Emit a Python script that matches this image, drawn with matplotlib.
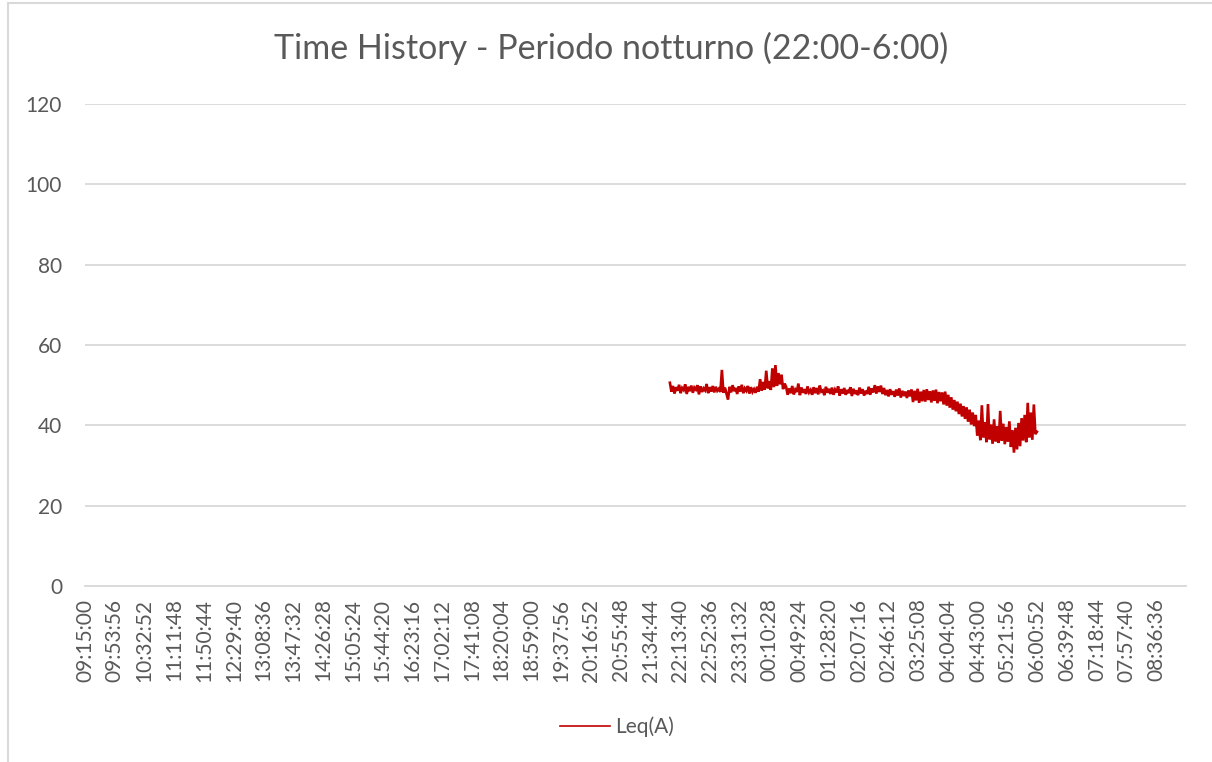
import matplotlib
matplotlib.use("Agg")
import matplotlib.pyplot as plt
from matplotlib.lines import Line2D
import numpy as np

# ---- data ----
title = "Time History - Periodo notturno (22:00-6:00)"
series_name = "Leq(A)"
axis_start = "09:15:00"          # first category of the axis
axis_span_s = 86400              # axis covers one day
label_step_s = 2336              # one label every 38:56
y_ticks = [0, 20, 40, 60, 80, 100, 120]
data_start_s = 45900             # 22:00:00 expressed as seconds after 09:15:00
data_step_s = 120                # one reading every 2 minutes

leq = [
    50.6, 48.4, 49.8, 47.9, 49.5, 48.6, 50.1, 48.0, 49.3, 48.8,
    50.2, 47.8, 49.6, 48.5, 49.9, 48.1, 49.4, 48.9, 50.0, 47.7,
    49.7, 48.3, 49.2, 48.7, 50.3, 48.0, 49.5, 48.4, 49.8, 48.2,
    49.6, 48.6, 49.1, 48.3,
    53.8,
    48.1, 49.4, 47.9, 46.4,
    49.6, 48.2, 50.0, 48.5, 49.3, 47.8, 49.7, 48.4, 50.1, 48.0,
    49.2, 48.6, 49.8, 47.9, 49.5, 48.3, 49.0, 48.1, 49.6, 48.4,
    51.5, 48.6, 50.8, 48.9, 53.6, 49.2, 51.0, 48.8, 54.2, 49.5,
    55.0, 49.8, 53.0, 50.2, 52.6, 49.0, 50.4,
    49.6, 47.6, 49.2, 48.0, 49.8, 47.7, 48.9, 48.3, 50.4, 47.5,
    49.4, 48.1, 49.0, 47.8, 49.7, 48.2, 48.8, 47.6, 49.5, 48.0,
    49.3, 47.7, 49.9, 48.4, 48.7, 47.5, 49.6, 48.1, 49.1, 47.8,
    49.4, 47.6, 48.9, 48.2, 49.7, 47.4, 49.0, 47.9, 49.3, 47.6,
    48.8, 48.0, 49.5, 47.3, 49.1, 47.8, 48.7, 47.5, 49.4, 47.9,
    49.0, 47.4, 48.6, 47.8, 49.6, 47.6, 49.2, 48.2, 50.0, 47.9,
    49.7, 48.3, 49.9, 47.8, 49.3, 47.5, 48.8, 47.2, 49.0, 47.6,
    48.5, 47.1, 48.9, 47.4, 49.2, 46.9, 48.6, 47.3, 48.4, 46.8,
    48.7, 47.2,
    48.9, 45.8, 48.6, 46.2, 49.1, 45.6, 48.4, 46.0, 48.8, 45.9,
    49.0, 46.3, 48.5, 45.7, 48.7, 46.1, 48.9, 45.5, 48.3, 46.0, 48.2,
    45.2, 48.4, 44.9, 47.6, 44.4, 47.0, 43.9, 46.3, 43.5, 45.9,
    42.8, 45.4, 42.2, 44.8, 41.6, 44.5, 40.9, 43.9, 40.2, 43.2, 39.8,
    42.6, 37.4, 41.2, 36.3, 45.0, 37.0, 40.8, 35.8, 45.3, 36.5,
    40.2, 35.4, 41.5, 36.0, 39.8, 35.6, 43.6, 36.2, 40.4, 35.3,
    39.6, 35.9, 41.0,
    34.6, 38.8, 33.2, 39.4, 34.0, 40.6, 34.8, 41.8,
    36.2, 42.6, 35.8, 45.6, 37.0, 43.2, 36.4, 45.2, 37.8, 38.4,
]

# ---- derived ----
h0, m0, s0 = map(int, axis_start.split(":"))
start_sec = h0 * 3600 + m0 * 60 + s0
tick_pos = list(range(0, axis_span_s, label_step_s))
tick_labels = []
for p in tick_pos:
    t = (start_sec + p) % 86400
    tick_labels.append(f"{t // 3600:02d}:{(t % 3600) // 60:02d}:{t % 60:02d}")
x = data_start_s + data_step_s * np.arange(len(leq))

FONT = ["Lato", "DejaVu Sans"]
TXT = "#595959"
GRID = "#d9d9d9"
RED = "#C00000"

W, H = 1212, 762
fig = plt.figure(figsize=(W / 100, H / 100), dpi=100)
fig.patch.set_facecolor("white")

ax = fig.add_axes([85 / W, 1 - 586 / H, (1186 - 85) / W, (586 - 104) / H])
ax.plot(x, leq, color=RED, linewidth=1.9, solid_joinstyle="miter")
ax.set_xlim(0, axis_span_s)
ax.set_ylim(0, 120)
ax.set_yticks(y_ticks)
ax.set_xticks(tick_pos)
ax.set_xticklabels(tick_labels, rotation=90, fontsize=15, color=TXT, family=FONT)
for lab in ax.get_yticklabels():
    lab.set_family(FONT)
ax.tick_params(axis="y", labelsize=15, labelcolor=TXT, length=0, pad=16.5)
ax.tick_params(axis="x", length=0, pad=9)
ax.yaxis.grid(True, color=GRID, linewidth=1.3)
ax.set_axisbelow(True)
for s in ["top", "right", "left"]:
    ax.spines[s].set_visible(False)
ax.spines["bottom"].set_color(GRID)
ax.spines["bottom"].set_linewidth(1.3)

fig.text(611 / W, 1 - 48 / H, title, ha="center", va="center",
         fontsize=24.5, color=TXT, family=FONT)

handle = Line2D([], [], color=RED, linewidth=1.2)
fig.legend([handle], [series_name], loc="center",
           bbox_to_anchor=(617 / W, 1 - 727 / H), frameon=False,
           prop={"family": FONT, "size": 15}, labelcolor=TXT,
           handlelength=2.4, handletextpad=0.25)

# chart-area border (left and top edges visible)
fig.add_artist(Line2D([8 / W, 8 / W], [0, 1 - 3 / H], transform=fig.transFigure,
                      color=GRID, linewidth=1.5))
fig.add_artist(Line2D([8 / W, 1], [1 - 3 / H, 1 - 3 / H], transform=fig.transFigure,
                      color=GRID, linewidth=1.5))

fig.savefig("out.png", dpi=100, facecolor="white")
